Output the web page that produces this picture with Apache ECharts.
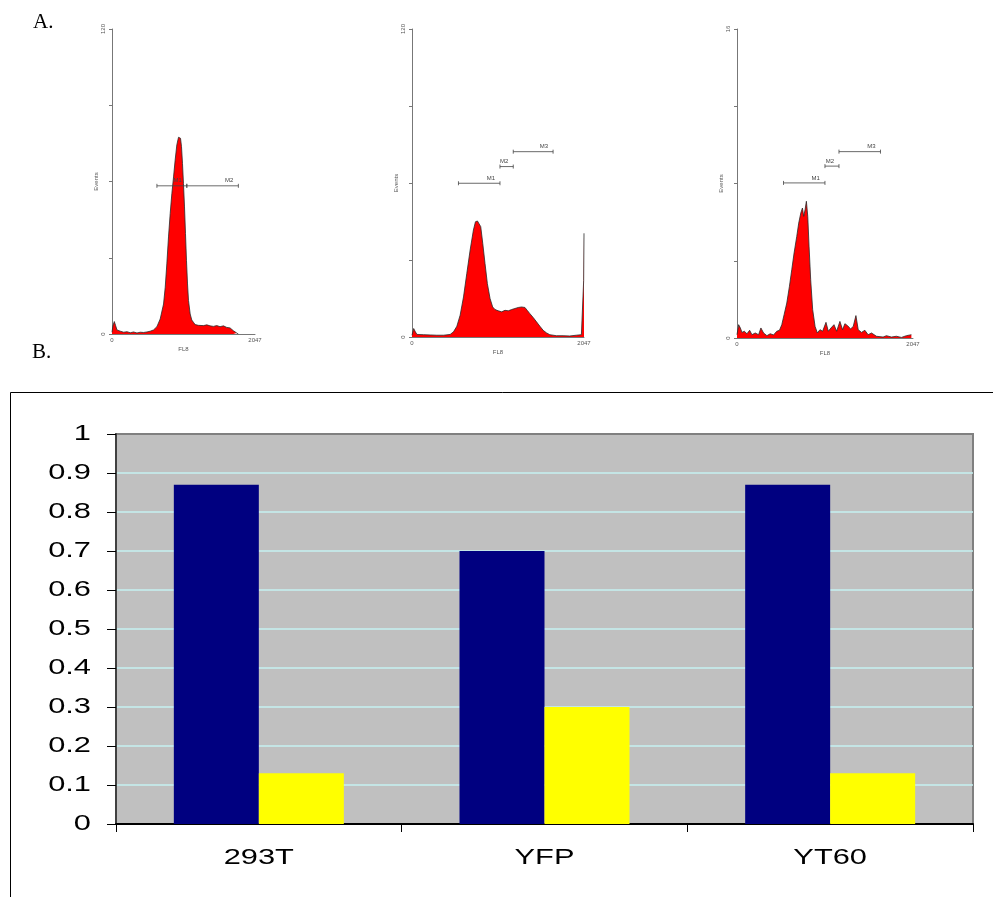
<!DOCTYPE html>
<html>
<head>
<meta charset="utf-8">
<script src="https://cdn.jsdelivr.net/npm/echarts@6/dist/echarts.min.js"></script>
<style>
  html, body { margin: 0; padding: 0; background: #fff; }
  #chart { width: 993px; height: 897px; }
</style>
</head>
<body>
<div id="chart"></div>
<script>
// ---- Panel A: FL8 histograms (channel, events) ----
const hist293T = [
  [0,0.7],[14,3.3],[33,4.9],[52,3.3],[71,1.6],[119,1.1],[167,0.7],[214,0.9],[262,0.5],[309,0.8],
  [357,0.4],[405,0.7],[452,0.6],[500,0.8],[547,1.1],[595,1.6],[643,2.9],[690,5.9],[738,11.8],[762,18.4],
  [785,27.6],[809,38.2],[833,47.4],[857,55.3],[881,61.8],[904,68.4],[928,74.4],[952,77.4],[966,78.0],[981,77.0],
  [995,73.7],[1009,67.1],[1023,59.2],[1038,50.0],[1052,39.5],[1066,29.0],[1081,19.7],[1095,13.2],[1119,7.9],[1142,5.5],
  [1166,4.6],[1190,3.7],[1214,4.2],[1238,3.4],[1261,3.8],[1309,3.3],[1357,3.6],[1404,3.2],[1428,3.7],[1452,3.0],
  [1499,3.3],[1547,2.9],[1595,3.2],[1642,2.6],[1690,2.4],[1737,1.3],[1785,0.4],[1809,0]
];
const histYFP = [
  [0,0.7],[20,3.3],[40,2.0],[59,1.0],[138,0.9],[217,0.8],[296,0.7],[375,0.7],[454,1.0],[494,2.0],
  [534,4.2],[573,8.5],[613,15.6],[652,24.7],[692,33.9],[731,41.7],[755,44.9],[779,45.2],[802,45.8],[818,43.0],
  [842,36.5],[869,28.6],[897,20.8],[929,15.0],[960,11.7],[988,10.7],[1027,10.2],[1067,9.8],[1107,10.4],[1146,10.2],
  [1186,10.7],[1225,11.1],[1265,11.5],[1304,11.7],[1344,11.5],[1371,10.4],[1403,9.1],[1442,7.6],[1482,5.9],[1522,4.2],
  [1561,2.6],[1601,1.6],[1640,0.9],[1719,0.5],[1798,0.5],[1877,0.4],[1956,0.7],[2016,0.9],[2038,0.9],[2043,22.0],
  [2047,40.4]
];
const histYT60 = [
  [0,0.17],[19,0.69],[39,0.52],[58,0.29],[85,0.35],[116,0.22],[147,0.40],[174,0.17],[212,0.26],[251,0.17],
  [278,0.52],[309,0.26],[348,0.12],[386,0.22],[425,0.16],[463,0.35],[494,0.40],[521,0.69],[548,1.21],[579,1.81],
  [610,2.68],[637,3.54],[664,4.40],[695,5.26],[718,5.95],[742,6.47],[761,6.73],[776,6.30],[792,6.65],[807,7.08],
  [823,6.30],[838,4.75],[857,3.02],[880,1.47],[908,0.60],[935,0.26],[965,0.43],[996,0.35],[1035,0.81],[1062,0.35],
  [1093,0.52],[1128,0.69],[1159,0.35],[1197,0.86],[1228,0.43],[1255,0.74],[1286,0.64],[1321,0.47],[1352,0.60],[1383,1.16],
  [1410,0.43],[1448,0.29],[1487,0.40],[1525,0.17],[1564,0.26],[1622,0.09],[1699,0.05],[1738,0.12],[1796,0.05],[1854,0.09],
  [1912,0.03],[1970,0.12],[2028,0.17]
];
const histYMax = [120, 120, 16];
const histXMax = 2047;

// Marker gates: [start channel, end channel, level]
const gates293T = [[643,1071,58.3],[1071,1809,58.3]];
const gatesYFP = [[553,1047,59.9],[1047,1205,66.4],[1205,1679,72.2]];
const gatesYT60 = [[541,1023,8.03],[1023,1186,8.9],[1186,1669,9.65]];
const gateNames = ['M1', 'M2', 'M3'];

// ---- Panel B: bar chart ----
const groups = ['293T', 'YFP', 'YT60'];
const valuesBlue = [0.87, 0.70, 0.87];
const valuesYellow = [0.13, 0.30, 0.13];
const barTickValues = [0, 0.1, 0.2, 0.3, 0.4, 0.5, 0.6, 0.7, 0.8, 0.9, 1];
const barTickLabels = ['0', '0.1', '0.2', '0.3', '0.4', '0.5', '0.6', '0.7', '0.8', '0.9', '1'];

const histGrids = [
  { left: 112, top: 29, width: 143, height: 305 },
  { left: 412, top: 29, width: 172, height: 308 },
  { left: 737, top: 29, width: 176, height: 309 }
];
const histData = [hist293T, histYFP, histYT60];
const gateData = [gates293T, gatesYFP, gatesYT60];

const tinyFont = { fontFamily: 'Liberation Sans', fontSize: 6, color: '#555' };

const grids = histGrids.map(g => Object.assign({ containLabel: false }, g));
grids.push({ left: 116, top: 434, width: 857, height: 390, show: true,
  backgroundColor: '#c0c0c0', borderColor: '#808080', borderWidth: 2 });

const xAxes = [], yAxes = [], series = [];
histGrids.forEach((g, i) => {
  xAxes.push({
    type: 'value', gridIndex: i, min: 0, max: histXMax, interval: histXMax,
    name: 'FL8', nameLocation: 'middle', nameGap: 12,
    nameTextStyle: tinyFont,
    axisLine: { show: true, lineStyle: { color: '#777', width: 1 } },
    axisTick: { show: false },
    axisLabel: Object.assign({ margin: 3, showMinLabel: true, showMaxLabel: true,
      formatter: v => String(v) }, tinyFont),
    splitLine: { show: false }
  });
  yAxes.push({
    type: 'value', gridIndex: i, min: 0, max: histYMax[i], interval: histYMax[i] / 4,
    name: 'Events', nameLocation: 'middle', nameGap: 13,
    nameTextStyle: tinyFont,
    axisLine: { show: true, lineStyle: { color: '#777', width: 1 } },
    axisTick: { show: true, length: 3, lineStyle: { color: '#777' } },
    axisLabel: Object.assign({ margin: 6, rotate: 90,
      formatter: v => (v === 0 || v === histYMax[i]) ? String(v) : '' }, tinyFont),
    splitLine: { show: false }
  });
  series.push({
    type: 'line', xAxisIndex: i, yAxisIndex: i, data: histData[i],
    symbol: 'none', smooth: false, z: 2,
    lineStyle: { color: '#2a2a2a', width: 0.8 },
    areaStyle: { color: '#ff0000', opacity: 1 }
  });
  series.push({
    type: 'custom', xAxisIndex: i, yAxisIndex: i, z: 5,
    data: gateData[i],
    encode: { x: [0, 1], y: 2 },
    renderItem: (params, api) => {
      const a = api.coord([api.value(0), api.value(2)]);
      const b = api.coord([api.value(1), api.value(2)]);
      const st = { stroke: '#444', lineWidth: 0.8 };
      return {
        type: 'group',
        children: [
          { type: 'line', shape: { x1: a[0], y1: a[1], x2: b[0], y2: b[1] }, style: st },
          { type: 'line', shape: { x1: a[0], y1: a[1] - 2, x2: a[0], y2: a[1] + 2 }, style: st },
          { type: 'line', shape: { x1: b[0], y1: b[1] - 2, x2: b[0], y2: b[1] + 2 }, style: st },
          { type: 'text', x: b[0] - 5, y: b[1] - 2,
            style: { text: gateNames[params.dataIndex], fill: '#444', fontSize: 6,
                     fontFamily: 'Liberation Sans', align: 'right', verticalAlign: 'bottom' } }
        ]
      };
    }
  });
});

// bar chart axes (tick labels are drawn as wide text further below)
xAxes.push({
  type: 'category', gridIndex: 3, data: groups,
  axisLine: { show: true, lineStyle: { color: '#000', width: 2 } },
  axisTick: { show: true, length: 8, lineStyle: { color: '#000', width: 1 } },
  axisLabel: { show: false }
});
yAxes.push({
  type: 'value', gridIndex: 3, min: 0, max: 1, interval: 0.1,
  axisLine: { show: true, lineStyle: { color: '#404040', width: 2 } },
  axisTick: { show: true, length: 9, lineStyle: { color: '#000', width: 1 } },
  axisLabel: { show: false },
  splitLine: { show: true, showMinLine: false, showMaxLine: false,
    lineStyle: { color: '#c6f2f2', width: 1.5 } }
});
series.push({
  type: 'bar', xAxisIndex: 3, yAxisIndex: 3, data: valuesBlue,
  barWidth: 85, barGap: '0%', itemStyle: { color: '#000080' }, z: 3
});
series.push({
  type: 'bar', xAxisIndex: 3, yAxisIndex: 3, data: valuesYellow,
  barWidth: 85, barGap: '0%', itemStyle: { color: '#ffff00' }, z: 3
});

const baseGraphics = [
  { type: 'text', x: 33, y: 12,
    style: { text: 'A.', fontFamily: 'Liberation Serif', fontSize: 21, fill: '#000' } },
  { type: 'text', x: 32, y: 342,
    style: { text: 'B.', fontFamily: 'Liberation Serif', fontSize: 21, fill: '#000' } },
  { type: 'rect', z: -1,
    shape: { x: 10.5, y: 392.5, width: 1000, height: 600 },
    style: { fill: 'none', stroke: '#000', lineWidth: 1 } }
];

const chart = echarts.init(document.getElementById('chart'), null, { renderer: 'canvas' });
chart.setOption({
  animation: false,
  backgroundColor: '#ffffff',
  grid: grids,
  xAxis: xAxes,
  yAxis: yAxes,
  series: series,
  graphic: baseGraphics
});

// Wide tick labels for panel B, placed from the chart's own axis scales
const labelStyle = { fontFamily: 'Liberation Sans', fontSize: 22, fill: '#000' };
const tickTexts = barTickValues.map((v, k) => {
  const py = chart.convertToPixel({ yAxisIndex: 3 }, v);
  return { type: 'text', x: 91, y: py, scaleX: 1.4,
    style: Object.assign({ text: barTickLabels[k], align: 'right', verticalAlign: 'middle' }, labelStyle) };
});
const catTexts = groups.map(name => {
  const px = chart.convertToPixel({ xAxisIndex: 3 }, name);
  const py = chart.convertToPixel({ yAxisIndex: 3 }, 0);
  return { type: 'text', x: px, y: py + 34, scaleX: 1.4,
    style: Object.assign({ text: name, align: 'center', verticalAlign: 'middle' }, labelStyle) };
});
chart.setOption({ graphic: baseGraphics.concat(tickTexts, catTexts) });
</script>
</body>
</html>
